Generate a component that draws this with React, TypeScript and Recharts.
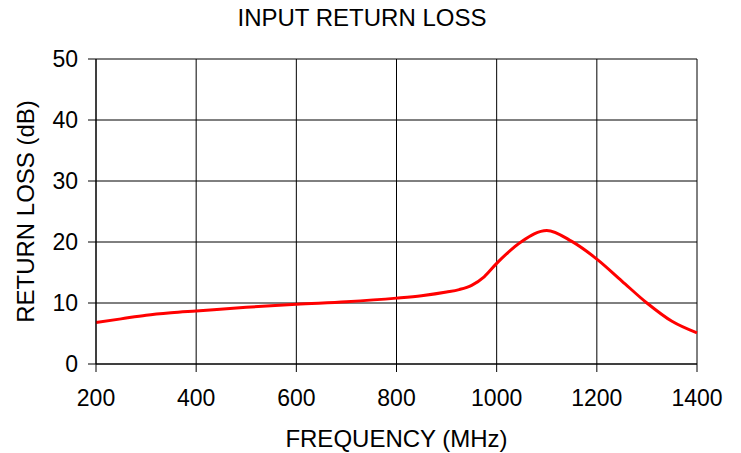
import React from "react";
import { LineChart, Line, XAxis, YAxis, CartesianGrid, Label } from "recharts";

const frequencies = [200, 250, 300, 350, 400, 500, 600, 700, 800, 850, 900, 925, 950, 975, 1000, 1050, 1100, 1150, 1200, 1250, 1300, 1350, 1400];
const returnLoss = [6.8, 7.4, 8.0, 8.4, 8.7, 9.3, 9.8, 10.2, 10.8, 11.2, 11.8, 12.2, 12.9, 14.3, 16.5, 20.1, 21.9, 20.1, 17.2, 13.6, 10.0, 7.0, 5.1];
const xTicks = [200, 400, 600, 800, 1000, 1200, 1400];
const yTicks = [0, 10, 20, 30, 40, 50];

const data = frequencies.map((f, i) => ({ f, rl: returnLoss[i] }));

const FONT = "'Liberation Sans', Arial, sans-serif";

export default function App() {
  return (
    <div style={{ position: "absolute", left: 0, top: 0, width: 741, height: 453, background: "#fff", fontFamily: FONT }}>
      <div style={{ position: "absolute", left: 0, top: 4, width: 724, textAlign: "center", fontSize: 24, color: "#000" }}>
        INPUT RETURN LOSS
      </div>
      <LineChart width={741} height={453} data={data} margin={{ top: 59, right: 44, left: 0, bottom: 0 }}>
        <CartesianGrid stroke="#000" strokeWidth={1} />
        <XAxis
          dataKey="f"
          type="number"
          domain={[200, 1400]}
          ticks={xTicks}
          height={89}
          tickSize={8}
          tickMargin={18}
          stroke="#000"
          tick={{ fill: "#000", fontSize: 23, fontFamily: FONT }}
        >
          <Label value="FREQUENCY (MHz)" position="insideBottom" offset={6} fill="#000" fontSize={24} fontFamily={FONT} />
        </XAxis>
        <YAxis
          type="number"
          domain={[0, 50]}
          ticks={yTicks}
          width={96}
          tickSize={8}
          tickMargin={10}
          stroke="#000"
          tick={{ fill: "#000", fontSize: 23, fontFamily: FONT }}
        >
          <Label value="RETURN LOSS (dB)" angle={-90} position="insideLeft" offset={25} fill="#000" fontSize={24} fontFamily={FONT} style={{ textAnchor: "middle" }} />
        </YAxis>
        <Line type="monotone" dataKey="rl" stroke="#ff0000" strokeWidth={3} dot={false} isAnimationActive={false} />
      </LineChart>
    </div>
  );
}
